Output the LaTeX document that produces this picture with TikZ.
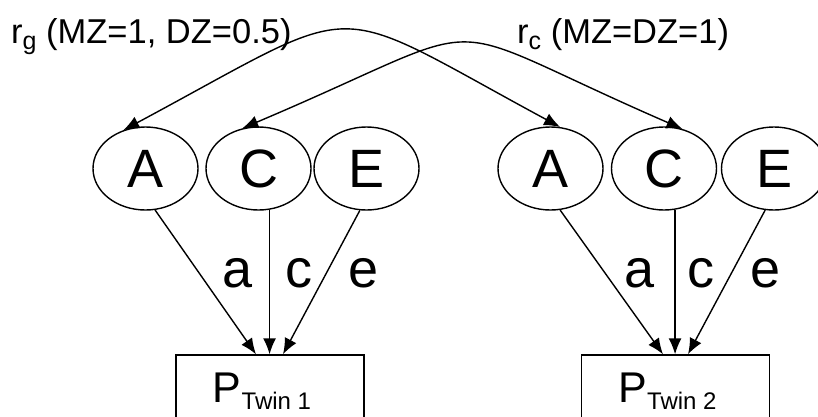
\documentclass[tikz,border=0pt]{standalone}
\usepackage{fontspec}
\setmainfont{Liberation Sans}
\usetikzlibrary{shapes.geometric,arrows.meta}

\newcommand{\twinsub}[1]{\raisebox{-7pt}{\fontsize{24}{24}\selectfont #1}}
\newcommand{\corrsub}[1]{\raisebox{-6pt}{\fontsize{25}{25}\selectfont #1}}

\tikzset{
  latent/.style = {draw, ellipse, line width=1.4pt, inner sep=0pt,
    minimum width=105pt, minimum height=83pt, font=\fontsize{54}{54}\selectfont},
  observed/.style = {draw, rectangle, line width=1.4pt,
    minimum width=188pt, minimum height=74pt},
  load/.style = {-{Latex[length=16pt,width=13pt]}, line width=1.4pt},
  corr/.style = {{Latex[length=16pt,width=13pt]}-{Latex[length=16pt,width=13pt]}, line width=1.4pt},
  coef/.style = {font=\fontsize{54}{54}\selectfont},
  corrlabel/.style = {inner sep=0pt, anchor=base west, font=\fontsize{34.5}{34.5}\selectfont},
  obslabel/.style = {inner sep=0pt, font=\fontsize{43}{43}\selectfont}
}

\begin{document}
\begin{tikzpicture}[x=1pt, y=-1pt]
  \useasboundingbox (0,0) rectangle (818,416);

  % twin 1
  \node [latent] (A1) at (145.5,168.5) {A};
  \node [latent] (C1) at (258.5,168.5) {C};
  \node [latent] (E1) at (366.5,168.5) {E};
  \node [observed] (P1) at (270,392) {};
  \node [obslabel] (P1lab) at ([xshift=-8pt,yshift=1pt]P1.center) {P\twinsub{Twin 1}};

  % twin 2
  \node [latent] (A2) at (550.5,168.5) {A};
  \node [latent] (C2) at (664,168.5) {C};
  \node [latent] (E2) at (774,168.5) {E};
  \node [observed] (P2) at (675.5,392) {};
  \node [obslabel] (P2lab) at ([xshift=-8pt,yshift=1pt]P2.center) {P\twinsub{Twin 2}};

  % paths a, c, e
  \draw [load] (A1.-77) -- ([xshift=-14pt]P1.north);
  \draw [load] (C1.-75) -- (C1.-75 |- P1.north);
  \draw [load] (E1.-99) -- ([xshift=13pt]P1.north);
  \draw [load] (A2.-77) -- ([xshift=-12.5pt]P2.north);
  \draw [load] (C2.-75) -- (C2.-75 |- P2.north);
  \draw [load] (E2.-102) -- ([xshift=12.5pt]P2.north);

  \node [coef] (a1) at (237.5,273) {a};
  \node [coef] (c1) at (298.5,273) {c};
  \node [coef] (e1) at (363.5,273) {e};
  \node [coef] (a2) at (640,273) {a};
  \node [coef] (c2) at (700.5,273) {c};
  \node [coef] (e2) at (765.5,273) {e};

  % twin correlations
  \draw [corr] (A1.120) .. controls (370,-2) and (321,-2) .. (A2.77);
  \draw [corr] (C1.112) .. controls (510,15) and (420,15) .. (C2.65);
  \node [corrlabel] (rg) at (11,43) {r\corrsub{g} (MZ=1, DZ=0.5)};
  \node [corrlabel] (rc) at (517,43) {r\corrsub{c} (MZ=DZ=1)};
\end{tikzpicture}
\end{document}
